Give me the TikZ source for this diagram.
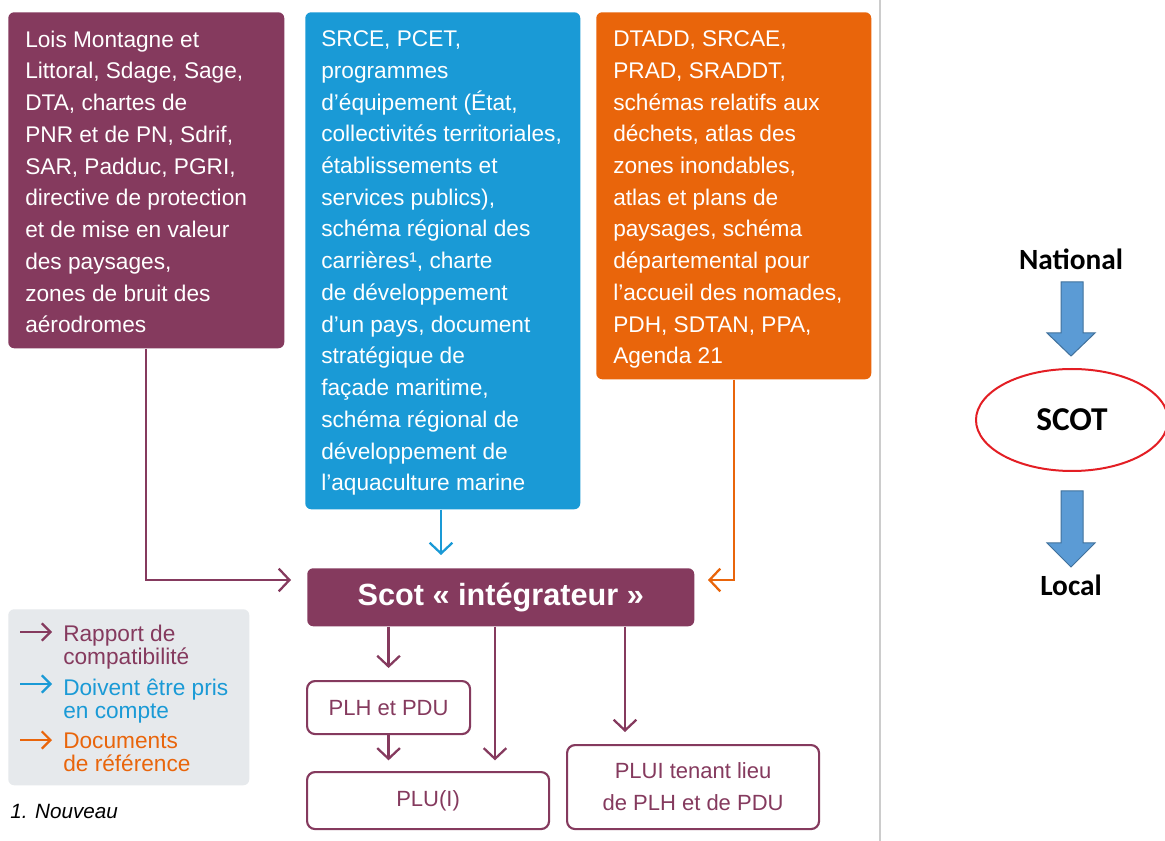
\documentclass[tikz,border=0pt]{standalone}
\usepackage{fontspec}
\setmainfont{Liberation Sans}
\newfontfamily\calfont{Carlito}
\usetikzlibrary{arrows.meta,shapes.geometric}
\definecolor{purp}{HTML}{853A5E}
\definecolor{blu}{HTML}{1A9AD6}
\definecolor{orng}{HTML}{E9650B}
\definecolor{legbg}{HTML}{E6E9EC}
\definecolor{sepc}{HTML}{CCCCCC}
\definecolor{barrow}{HTML}{5B9BD5}
\definecolor{barrowd}{HTML}{41719C}
\definecolor{redl}{HTML}{E31E24}
\newcommand{\pxu}{0.75pt}
\begin{document}
\begin{tikzpicture}[x=0.75pt,y=-0.75pt,
  colbox/.style={rounded corners=4.5pt, inner sep=0pt, anchor=north west},
  boxtxt/.style={anchor=north west, inner sep=0pt, align=left, text=white, font=\fontsize{17}{23.8}\selectfont},
  wbox/.style={draw=purp, line width=1.6pt, fill=white, rounded corners=6pt, anchor=north west, inner sep=0pt, text=purp, font=\fontsize{16.5}{24}\selectfont, align=center},
  legtxt/.style={anchor=north west, inner sep=0pt, align=left, font=\fontsize{17}{17.3}\selectfont},
  pconn/.style={draw=purp, line width=1.7pt, -{Straight Barb[length=8pt,width=17pt]}},
  bconn/.style={draw=blu, line width=1.7pt, -{Straight Barb[length=8pt,width=17pt]}},
  oconn/.style={draw=orng, line width=1.7pt, -{Straight Barb[length=8pt,width=17pt]}},
  legarrow/.style={line width=1.6pt, -{Straight Barb[length=6.5pt,width=13pt]}},
  blockarrow/.style={fill=barrow, draw=barrowd, line width=0.75pt},
  rtxt/.style={font=\calfont\bfseries\fontsize{22}{26}\selectfont, inner sep=0pt}
]
\useasboundingbox (0,0) rectangle (1165,841);
\fill[white] (0,0) rectangle (1165,841);

% top boxes
\node[colbox, fill=purp, minimum width=276*\pxu, minimum height=336*\pxu] (pur) at (8,12) {};
\node[boxtxt] (purt) at (25,30.5) {Lois Montagne et\\Littoral, Sdage, Sage,\\DTA, chartes de\\PNR et de PN, Sdrif,\\SAR, Padduc, PGRI,\\directive de protection\\et de mise en valeur\\des paysages,\\zones de bruit des\\aérodromes};

\node[colbox, fill=blu, minimum width=275*\pxu, minimum height=497*\pxu] (blu) at (305,12) {};
\node[boxtxt] (blut) at (321,30.5) {SRCE, PCET,\\programmes\\d’équipement (État,\\collectivités territoriales,\\établissements et\\services publics),\\schéma régional des\\carrières¹, charte\\de développement\\d’un pays, document\\stratégique de\\façade maritime,\\schéma régional de\\développement de\\l’aquaculture marine};

\node[colbox, fill=orng, minimum width=275*\pxu, minimum height=367*\pxu] (org) at (596,12) {};
\node[boxtxt] (orgt) at (613,30.5) {DTADD, SRCAE,\\PRAD, SRADDT,\\schémas relatifs aux\\déchets, atlas des\\zones inondables,\\atlas et plans de\\paysages, schéma\\départemental pour\\l’accueil des nomades,\\PDH, SDTAN, PPA,\\Agenda 21};

% Scot box
\node[colbox, fill=purp, minimum width=387*\pxu, minimum height=58*\pxu, text=white, font=\bfseries\fontsize{23}{26}\selectfont] (scot) at (307,568) {Scot « intégrateur »};

% bottom boxes
\node[wbox, minimum width=163*\pxu, minimum height=53*\pxu] (plh) at (306,680) {PLH et PDU};
\node[wbox, minimum width=242*\pxu, minimum height=57*\pxu] (plu) at (306,771) {PLU(I)};
\node[wbox, minimum width=252*\pxu, minimum height=84*\pxu] (plui) at (566,744) {PLUI tenant lieu\\de PLH et de PDU};

% incoming connectors
\coordinate (pin) at (291,580);
\coordinate (bin) at (441,555);
\coordinate (oin) at (708,580);
\draw[pconn] (pur.south) |- (pin);
\draw[bconn] (blu.south -| bin) -- (bin);
\draw[oconn] (org.south) |- (oin);

% outgoing connectors
\coordinate (c495) at (495,0);
\coordinate (c625) at (625,0);
\draw[pconn, shorten >=9pt] (scot.south -| plh.north) -- (plh.north);
\draw[pconn, shorten >=8pt] (plh.south) -- (plh.south |- plu.north);
\draw[pconn, shorten >=8pt] (scot.south -| c495) -- (plu.north -| c495);
\draw[pconn, shorten >=9pt] (scot.south -| c625) -- (plui.north -| c625);

% legend
\node[colbox, fill=legbg, minimum width=241*\pxu, minimum height=176*\pxu] (leg) at (8,609) {};
\coordinate (la1) at (20,632);
\coordinate (la2) at (20,684);
\coordinate (la3) at (20,740);
\draw[legarrow, purp] (la1) -- ++(32,0);
\draw[legarrow, blu] (la2) -- ++(32,0);
\draw[legarrow, orng] (la3) -- ++(32,0);
\node[legtxt, text=purp] (lt1) at (63,624.5) {Rapport de\\compatibilité};
\node[legtxt, text=blu] (lt2) at (63,679) {Doivent être pris\\en compte};
\node[legtxt, text=orng] (lt3) at (63,733) {Documents\\de référence};
\node[anchor=base west, inner sep=0pt, font=\itshape\fontsize{15.5}{18}\selectfont] (nouv) at (10,818) {1. Nouveau};

% separator
\draw[sepc, line width=1.2pt] (880,0) -- (880,841);

% right part
\node[rtxt] (nat) at (1071,259) {National};
\node[draw=redl, line width=1.5pt, ellipse, minimum width=192*\pxu, minimum height=102*\pxu, inner sep=0pt, font=\calfont\bfseries\fontsize{25}{28}\selectfont] (scotr) at (1072,420) {SCOT};
\node[rtxt] (loc) at (1071,585) {Local};
\filldraw[blockarrow] (1061,282) -- (1083,282) -- (1083,333) -- (1095,333) -- (1071,356) -- (1047,333) -- (1061,333) -- cycle;
\filldraw[blockarrow] (1061,491) -- (1083,491) -- (1083,543) -- (1095,543) -- (1071,567) -- (1047,543) -- (1061,543) -- cycle;
\end{tikzpicture}
\end{document}
